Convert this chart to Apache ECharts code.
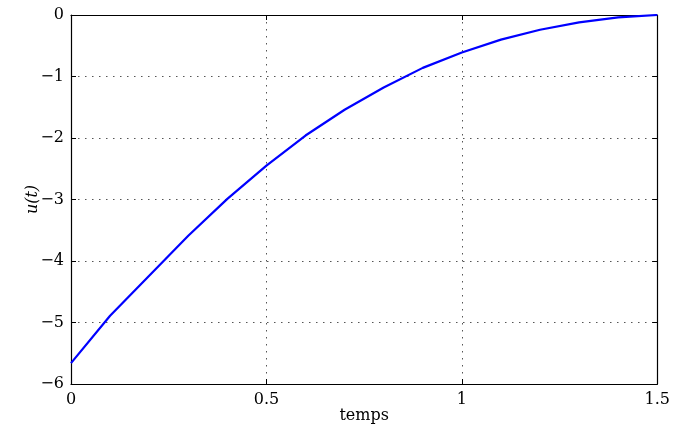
<!DOCTYPE html>
<html>
<head>
<meta charset="utf-8">
<script src="https://cdn.jsdelivr.net/npm/echarts@6/dist/echarts.min.js"></script>
<style>
  html, body { margin: 0; padding: 0; background: #fff; }
  #chart { width: 673px; height: 432px; }
</style>
</head>
<body>
<div id="chart"></div>
<script>
// Sampled solution u(t) on [0, 1.5]
const times = [0, 0.1, 0.2, 0.3, 0.4, 0.5, 0.6, 0.7, 0.8, 0.9, 1.0, 1.1, 1.2, 1.3, 1.4, 1.5];
const uValues = [-5.66, -4.89, -4.24, -3.59, -2.99, -2.45, -1.96, -1.54, -1.18, -0.86, -0.61, -0.40, -0.24, -0.12, -0.04, 0];

const xTicks = [0, 0.5, 1, 1.5];
const yTicks = [-6, -5, -4, -3, -2, -1, 0];

const FONT = 'DejaVu Serif';
const fmt = v => String(v).replace('-', '\u2212');

const gridLine = { show: true, lineStyle: { color: '#555', width: 1, type: [1.5, 5.5] } };
const frameLine = { show: true, onZero: false, lineStyle: { color: '#000', width: 1.2 } };
const inTick = { show: true, inside: true, length: 5, lineStyle: { color: '#000' } };

const chart = echarts.init(document.getElementById('chart'), null, { renderer: 'canvas' });
chart.setOption({
  animation: false,
  backgroundColor: '#fff',
  grid: { left: 71, right: 15, top: 15, bottom: 48, containLabel: false },
  xAxis: [
    {
      type: 'value', position: 'bottom',
      min: xTicks[0], max: xTicks[xTicks.length - 1], interval: 0.5,
      name: 'temps', nameLocation: 'middle', nameGap: 24, nameMoveOverlap: false,
      nameTextStyle: { fontFamily: FONT, fontSize: 16, color: '#000', verticalAlign: 'top' },
      axisLine: frameLine, axisTick: inTick,
      axisLabel: { margin: 8, fontFamily: FONT, fontSize: 16, color: '#000', formatter: fmt },
      splitLine: gridLine
    },
    {
      type: 'value', position: 'top',
      min: xTicks[0], max: xTicks[xTicks.length - 1], interval: 0.5,
      axisLine: frameLine, axisTick: inTick,
      axisLabel: { show: false }, splitLine: { show: false }
    }
  ],
  yAxis: [
    {
      type: 'value', position: 'left',
      min: yTicks[0], max: yTicks[yTicks.length - 1], interval: 1,
      name: 'u(t)', nameLocation: 'middle', nameGap: 30, nameRotate: 90, nameMoveOverlap: false,
      nameTextStyle: { fontFamily: FONT, fontStyle: 'italic', fontSize: 16, color: '#000' },
      axisLine: frameLine, axisTick: inTick,
      axisLabel: { margin: 7, fontFamily: FONT, fontSize: 16, color: '#000', formatter: fmt },
      splitLine: gridLine
    },
    {
      type: 'value', position: 'right',
      min: yTicks[0], max: yTicks[yTicks.length - 1], interval: 1,
      axisLine: frameLine, axisTick: inTick,
      axisLabel: { show: false }, splitLine: { show: false }
    }
  ],
  series: [
    {
      type: 'line',
      xAxisIndex: 0, yAxisIndex: 0,
      data: times.map((t, i) => [t, uValues[i]]),
      showSymbol: false,
      smooth: false,
      lineStyle: { color: '#0000ff', width: 2.2 },
      z: 5
    }
  ]
});
</script>
</body>
</html>
